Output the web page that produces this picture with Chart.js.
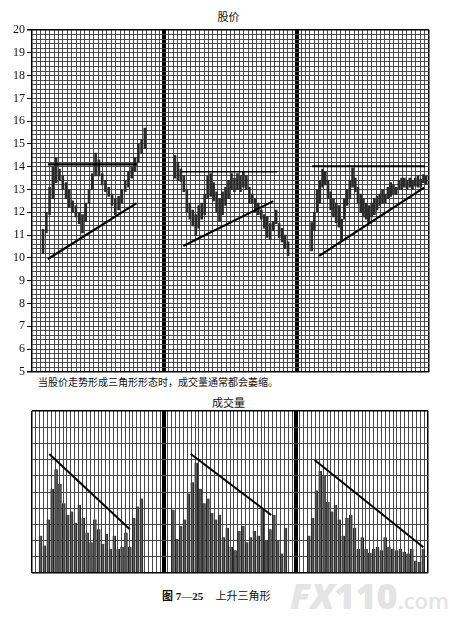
<!DOCTYPE html>
<html><head><meta charset="utf-8">
<script src="https://cdn.jsdelivr.net/npm/chart.js@4.4.1/dist/chart.umd.min.js"></script>
<style>
body{margin:0;background:#fff;width:457px;height:634px;position:relative;overflow:hidden;font-family:"Noto Sans CJK SC",sans-serif;}
.t{position:absolute;white-space:nowrap;color:#111;line-height:1;}
canvas{position:absolute;left:0;}
</style></head><body>
<div class="t" style="left:0;width:457px;text-align:center;top:11px;font-size:11px;">股价</div>
<div class="t" style="left:38px;top:377px;font-size:10px;">当股价走势形成三角形形态时，成交量通常都会萎缩。</div>
<div class="t" style="left:0;width:457px;text-align:center;top:397px;font-size:11px;">成交量</div>
<div class="t" style="left:162px;top:590px;font-size:11px;"><span style="font-weight:bold;font-family:'Liberation Serif','Noto Sans CJK SC';">图 7—25</span>&nbsp;&nbsp;&nbsp;&nbsp;&nbsp;上升三角形</div>
<div class="t" style="left:290px;top:578px;color:#e4e4e4;font-family:'Open Sans',sans-serif;font-weight:800;"><span style="font-size:36px;font-style:italic;">FX</span><span style="font-size:36px;">110</span><span style="font-size:22px;font-weight:600;">.com</span></div>
<canvas id="pc" width="432" height="361" style="top:20px;width:432px;height:361px;"></canvas>
<canvas id="vc" width="431" height="178" style="top:401px;width:431px;height:178px;"></canvas>
<script>
// ---- price bars (high / low) per panel ----
const panel1High=[11.25,12.0,13.1,14.0,14.4,13.9,13.6,13.3,13.0,12.5,12.3,12.0,11.9,12.4,13.0,13.7,14.6,14.3,13.7,13.4,13.1,12.8,12.6,12.7,13.0,13.4,13.8,14.0,14.4,15.0,15.2,15.7];
const panel1Low =[10.2,11.1,11.9,12.6,13.3,13.4,13.0,12.6,12.2,12.0,11.8,11.5,11.1,11.6,12.4,13.0,13.6,13.6,13.2,12.9,12.7,12.3,11.9,12.1,12.4,12.9,13.1,13.5,13.8,14.2,14.6,14.8];
const panel2High=[14.5,14.2,13.9,13.6,13.0,12.4,12.1,11.9,12.3,12.4,12.8,13.6,13.7,13.3,12.9,12.6,12.9,13.1,13.4,13.7,13.5,13.7,13.6,13.75,13.6,13.1,12.8,12.6,12.4,12.1,11.9,11.8,11.5,11.6,12.1,11.5,11.3,11.0,10.7];
const panel2Low =[13.5,13.4,13.35,12.9,12.0,11.7,11.4,11.0,11.3,11.7,11.9,12.6,12.7,12.5,12.0,11.6,11.9,12.3,12.6,13.0,12.9,13.0,12.9,13.1,13.0,12.4,12.4,12.0,11.9,11.7,11.3,10.9,10.8,11.2,11.5,10.9,10.7,10.4,10.1];
const panel3High=[11.55,12.0,13.0,13.4,13.9,13.8,13.4,12.9,12.6,12.4,12.3,11.7,12.6,13.0,13.4,13.95,13.5,13.1,12.8,12.6,12.4,12.3,12.4,12.6,12.7,12.8,13.0,12.8,13.1,13.3,13.2,13.1,13.4,13.5,13.5,13.4,13.5,13.4,13.5,13.6,13.45,13.65,13.6];
const panel3Low =[10.3,11.2,12.0,12.4,13.1,13.2,12.6,12.1,11.8,11.55,11.35,10.8,11.7,12.3,12.6,13.1,12.9,12.4,12.0,11.8,11.7,11.55,11.8,11.9,12.1,12.3,12.4,12.4,12.6,12.7,12.8,12.8,13.0,13.0,13.1,13.0,13.1,13.0,13.15,13.1,13.1,13.3,13.25];
// ---- volume per panel ----
const volume1=[2.3,1.7,3.3,5.2,6.4,5.5,4.3,3.6,3.8,3.1,4.2,3.4,2.5,1.9,3.3,2.7,1.8,2.4,1.5,2.3,1.5,1.6,2.5,1.6,3.4,4.1,4.6];
const volume2=[3.9,2.1,2.9,3.3,4.9,5.6,6.8,5.2,4.3,4.6,3.7,3.3,3.6,2.2,2.8,1.6,1.4,2.6,2.9,1.9,2.2,2.6,2.3,3.9,2.0,2.7,3.6,2.0,1.2,2.8];
const volume3=[2.3,3.4,5.1,6.3,6.0,4.4,3.8,4.2,3.3,2.3,3.4,3.6,2.8,1.5,2.2,1.5,1.25,1.5,1.6,1.4,2.2,1.6,1.5,1.4,1.5,1.3,1.2,1.5,0.75,0.7,1.5];
// ---- tick labels ----
const priceTickLabels=[5,6,7,8,9,10,11,12,13,14,15,16,17,18,19,20];
// ---- trend lines: [x1, y1, x2, y2] in grid units ----
const priceTrendLines=[[3.6,14.1,23.8,14.1],[3.6,9.95,23.7,12.4],[33.9,13.78,55.6,13.78],[34.3,10.52,54.7,12.49],[63.5,14.02,89.1,14.02],[65.1,10.09,88.9,13.08]];
const volumeTrendLines=[[4.45,7.35,25.2,2.7],[40.9,7.35,61.6,3.58],[72.8,6.98,100.8,1.59]];

// layout: bar placement along the grid (start column, spacing)
const pricePanels=[{h:panel1High,l:panel1Low,s:2.5,d:0.745},{h:panel2High,l:panel2Low,s:32.4,d:0.675},{h:panel3High,l:panel3Low,s:63.4,d:0.618}];
const volPanels=[{v:volume1,s:2.2,d:1},{v:volume2,s:36.3,d:1},{v:volume3,s:71.3,d:0.983}];

const range=(a,b,st)=>{const r=[];for(let i=0;Math.round((a+i*st)*10)/10<=b;i++)r.push(Math.round((a+i*st)*10)/10);return r;};
const setTicks=vals=>scale=>{scale.ticks=vals.map(v=>({value:v}));};

function gridX(seps,max){
  return {
    color:c=>{const v=c.tick&&c.tick.value;return (seps.includes(v)||v===0||v===max)?'#000':'#4a4a4a';},
    lineWidth:c=>{const v=c.tick&&c.tick.value;return seps.includes(v)?4:(v===0||v===max)?1.5:1;},
    drawTicks:false, offset:false
  };
}

// ---------- price chart ----------
const pDatasets=[];
pricePanels.forEach(p=>{
  pDatasets.push({type:'bar',data:p.h.map((h,i)=>({x:p.s+i*p.d,y:[p.l[i],h]})),backgroundColor:'#2a2a2a',barThickness:2,borderSkipped:false,grouped:false,order:2});
});
priceTrendLines.forEach((t,i)=>{
  pDatasets.push({type:'line',data:[{x:t[0],y:t[1]},{x:t[2],y:t[3]}],borderColor:'#000',borderWidth:(i===2)?1.5:2.2,pointRadius:0,order:1});
});
new Chart(document.getElementById('pc'),{
  type:'bar',
  data:{datasets:pDatasets},
  options:{
    responsive:false,animation:false,
    layout:{padding:{top:10,bottom:8,right:3,left:0}},
    plugins:{legend:{display:false},tooltip:{enabled:false}},
    scales:{
      x:{type:'linear',min:0,max:90,offset:false,afterBuildTicks:setTicks(range(0,90,1)),
         ticks:{display:false},grid:gridX([30,60],90),border:{display:false},
         afterFit:s=>{s.height=0;}},
      y:{type:'linear',min:5,max:20,afterBuildTicks:setTicks(range(5,20,0.2)),
         ticks:{autoSkip:false,padding:2,color:'#111',font:{family:'Liberation Serif',size:12},
           callback:v=>priceTickLabels.includes(v)?String(v):''},
         grid:{color:c=>{const v=c.tick&&c.tick.value;return (v===5||v===20)?'#000':'#4a4a4a';},
               lineWidth:c=>{const v=c.tick&&c.tick.value;return (v===5||v===20)?1.5:1;},
               tickLength:5,tickColor:c=>priceTickLabels.includes(c.tick&&c.tick.value)?'#000':'rgba(0,0,0,0)'},
         border:{display:false},
         afterFit:s=>{s.width=32;}}
    }
  }
});

// ---------- volume chart ----------
const vDatasets=[];
volPanels.forEach(p=>{
  vDatasets.push({type:'bar',data:p.v.map((v,i)=>({x:p.s+i*p.d,y:v})),backgroundColor:'#5a5a5a',borderColor:'#222',borderWidth:{left:1,right:1,top:0,bottom:0},barThickness:3,borderSkipped:false,grouped:false,order:2});
});
volumeTrendLines.forEach(t=>{
  vDatasets.push({type:'line',data:[{x:t[0],y:t[1]},{x:t[2],y:t[3]}],borderColor:'#000',borderWidth:2,pointRadius:0,order:1});
});
new Chart(document.getElementById('vc'),{
  type:'bar',
  data:{datasets:vDatasets},
  options:{
    responsive:false,animation:false,
    layout:{padding:{top:10,bottom:6,right:3,left:32}},
    plugins:{legend:{display:false},tooltip:{enabled:false}},
    scales:{
      x:{type:'linear',min:0,max:102,offset:false,afterBuildTicks:setTicks(range(0,102,1)),
         ticks:{display:false},grid:gridX([34,68],102),border:{display:false},
         afterFit:s=>{s.height=0;}},
      y:{type:'linear',min:0,max:10,afterBuildTicks:setTicks(range(0,10,1)),
         ticks:{display:false},
         grid:{color:c=>{const v=c.tick&&c.tick.value;return (v===0||v===10)?'#000':'#4a4a4a';},
               lineWidth:c=>{const v=c.tick&&c.tick.value;return (v===0||v===10)?1.5:1;},drawTicks:false},
         border:{display:false},
         afterFit:s=>{s.width=0;}}
    }
  }
});
</script>
</body></html>
